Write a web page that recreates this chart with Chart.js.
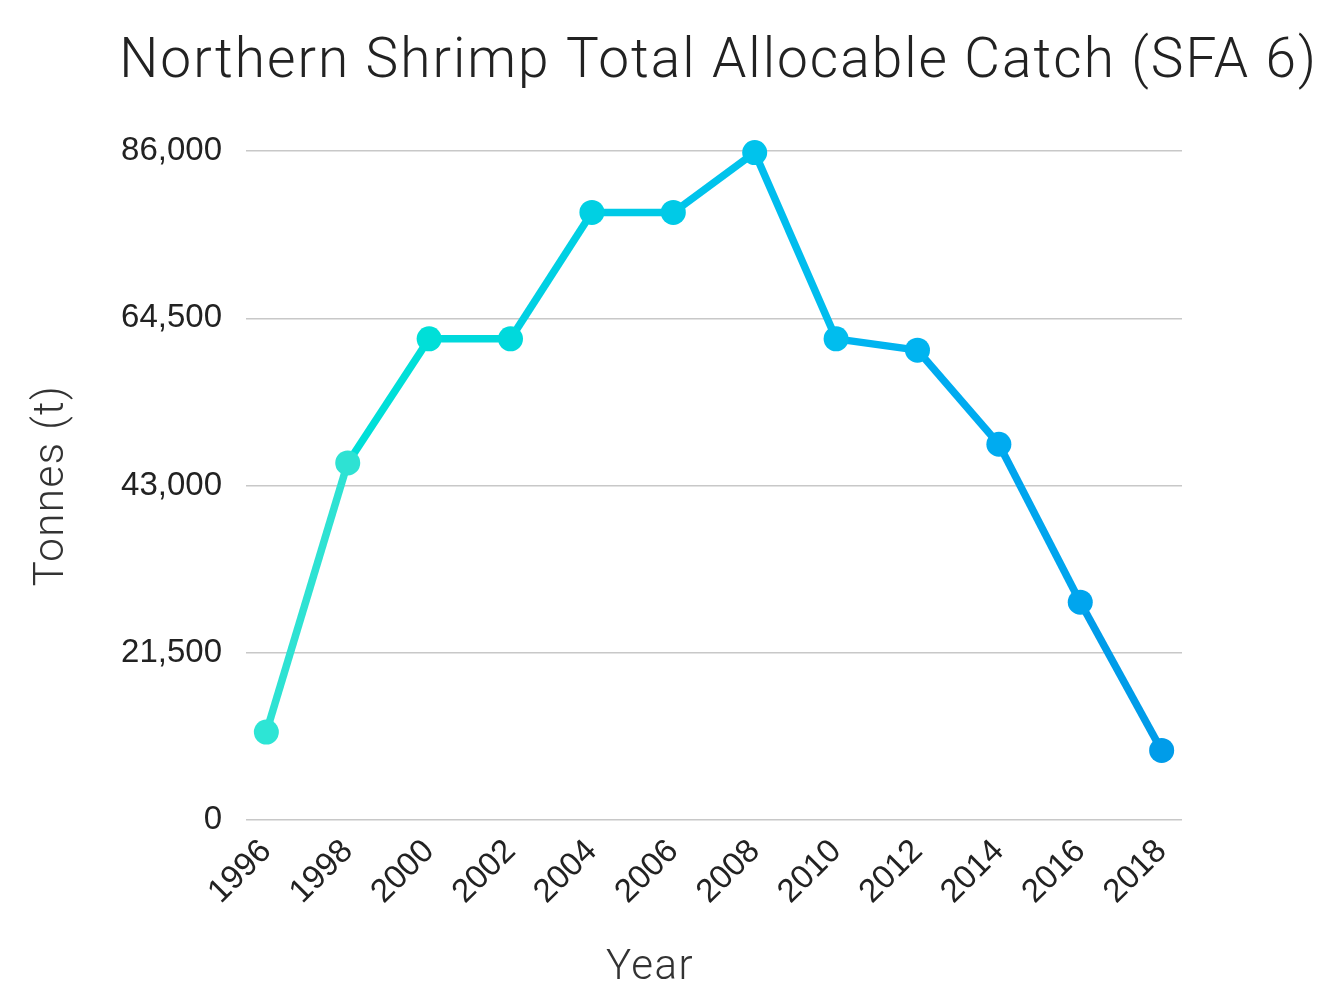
<!DOCTYPE html>
<html>
<head>
<meta charset="utf-8">
<script src="https://cdn.jsdelivr.net/npm/chart.js@4/dist/chart.umd.min.js"></script>
<style>
html,body{margin:0;padding:0;background:#ffffff;}
#wrap{width:1322px;height:986px;position:relative;}
</style>
</head>
<body>
<div id="wrap"><canvas id="c" width="1322" height="986"></canvas></div>
<script>
// ---- data ----
const years = [1996, 1998, 2000, 2002, 2004, 2006, 2008, 2010, 2012, 2014, 2016, 2018];
const yearLabels = ['1996', '1998', '2000', '2002', '2004', '2006', '2008', '2010', '2012', '2014', '2016', '2018'];
const tac = [11300, 45900, 61850, 61850, 78100, 78100, 85800, 61850, 60400, 48300, 28000, 8950];
const yTickValues = [0, 21500, 43000, 64500, 86000];
const yTickLabels = ['0', '21,500', '43,000', '64,500', '86,000'];
const pointColors = ['#2de5d5', '#2ee2d3', '#00dfd8', '#00d9dc', '#00d0e3', '#00cae7',
                     '#00c3ec', '#00bdee', '#00b4f0', '#00abf0', '#00a5ee', '#009ce9'];
const chartTitle = 'Northern Shrimp Total Allocable Catch (SFA 6)';
const yTitle = 'Tonnes (t)';
const xTitle = 'Year';

const points = years.map((y, i) => ({x: y, y: tac[i]}));

const thinFont = 'Roboto';
const tickFont = '"Liberation Sans", Arial, sans-serif';

function withSpacing(obj, method, spacing) {
  if (!obj || obj['__sp_' + method]) return;
  const orig = obj[method];
  obj[method] = function () {
    const ctx = this.ctx;
    const prev = ctx.letterSpacing;
    ctx.letterSpacing = spacing;
    const r = orig.apply(this, arguments);
    ctx.letterSpacing = prev || '0px';
    return r;
  };
  obj['__sp_' + method] = true;
}

const spacingPlugin = {
  id: 'spacing',
  afterLayout(chart) {
    withSpacing(chart.titleBlock, 'draw', '2px');
    withSpacing(chart.scales.y, 'drawTitle', '1.5px');
  }
};

const xTitlePlugin = {
  id: 'xTitle',
  afterDraw(chart) {
    const ctx = chart.ctx;
    ctx.save();
    ctx.letterSpacing = '1.5px';
    ctx.font = '300 42px ' + thinFont;
    ctx.fillStyle = '#333333';
    ctx.textAlign = 'center';
    ctx.textBaseline = 'middle';
    ctx.fillText(xTitle, 650, 968);
    ctx.restore();
  }
};

new Chart(document.getElementById('c'), {
  type: 'line',
  data: {
    datasets: [{
      data: points,
      clip: false,
      borderWidth: 7.5,
      borderColor: pointColors[0],
      segment: { borderColor: c => pointColors[c.p1DataIndex] },
      pointBackgroundColor: pointColors,
      pointBorderColor: pointColors,
      pointBorderWidth: 0,
      pointRadius: 12.5,
      pointHoverRadius: 12.5,
      tension: 0,
      fill: false
    }]
  },
  plugins: [spacingPlugin, xTitlePlugin],
  options: {
    responsive: false,
    animation: false,
    devicePixelRatio: 1,
    layout: { padding: { left: 0, right: 4, top: 0, bottom: 0 } },
    plugins: {
      legend: { display: false },
      tooltip: { enabled: false },
      title: {
        display: true,
        text: chartTitle,
        fullSize: true,
        align: 'end',
        color: '#222222',
        font: { family: thinFont, size: 55, weight: '300', lineHeight: 1.2 },
        padding: { top: 30, bottom: 55 }
      }
    },
    scales: {
      x: {
        type: 'linear',
        min: 1995.5,
        max: 2018.5,
        afterBuildTicks: axis => { axis.ticks = years.map(v => ({ value: v })); },
        afterFit: s => { s.height = 166; },
        grid: { display: false, drawTicks: false },
        border: { display: false },
        ticks: {
          autoSkip: false,
          maxRotation: 45,
          minRotation: 45,
          padding: 12,
          color: '#222222',
          font: { family: tickFont, size: 33 },
          callback: (v, i) => yearLabels[i]
        },
        title: { display: false }
      },
      y: {
        min: 0,
        max: 86000,
        afterBuildTicks: axis => { axis.ticks = yTickValues.map(v => ({ value: v })); },
        afterFit: s => { s.width = 246; },
        grid: { color: '#c8c8c8', lineWidth: 1.5, drawTicks: false },
        border: { display: false },
        ticks: {
          padding: 24,
          color: '#222222',
          font: { family: tickFont, size: 33 },
          callback: (v, i) => yTickLabels[i]
        },
        title: {
          display: true,
          text: yTitle,
          color: '#333333',
          font: { family: thinFont, size: 42, weight: '300', lineHeight: 1.2 },
          padding: { top: 27, bottom: 0 }
        }
      },
      yRight: {
        type: 'linear',
        position: 'right',
        display: true,
        afterFit: s => { s.width = 136; },
        grid: { display: false, drawTicks: false },
        border: { display: false },
        ticks: { display: false }
      }
    }
  }
});
</script>
</body>
</html>
